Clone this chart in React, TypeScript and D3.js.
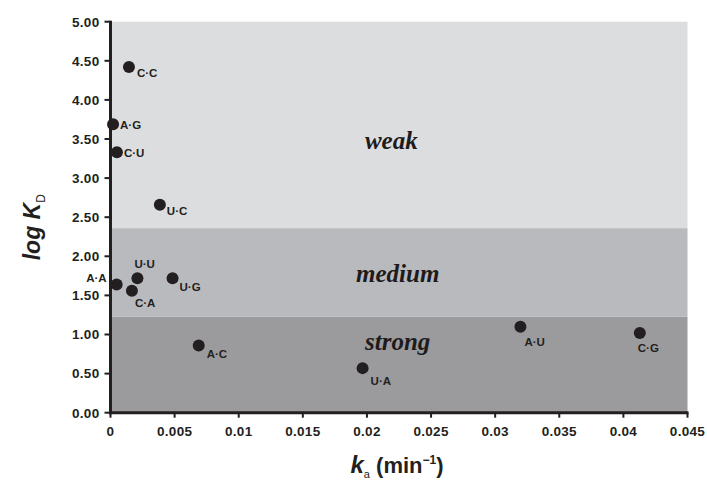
import React, { useEffect, useRef } from "react";
import * as d3 from "d3";

// mismatch pairs, association rate and log KD
const pairs = ["C·C", "A·G", "C·U", "U·C", "A·A", "U·U", "C·A", "U·G", "A·C", "U·A", "A·U", "C·G"];
const ka = [0.00144, 0.0002, 0.0005, 0.00385, 0.00048, 0.0021, 0.00167, 0.00484, 0.00688, 0.01966, 0.03197, 0.04128];
const logKd = [4.42, 3.69, 3.33, 2.66, 1.64, 1.72, 1.56, 1.72, 0.86, 0.57, 1.1, 1.02];

// label placement relative to each dot: [dx, dy, anchor]
const labelOffsets: [number, number, string][] = [
  [8, 10, "start"],
  [7, 5, "start"],
  [7, 4.5, "start"],
  [7, 10, "start"],
  [-10, -2, "end"],
  [-3, -10.5, "start"],
  [3, 16, "start"],
  [7, 12.5, "start"],
  [8, 12.5, "start"],
  [8, 16.5, "start"],
  [4, 19, "start"],
  [-2, 19.5, "start"],
];

const bandNames = ["strong", "medium", "weak"];
const bandLow = [0, 1.23, 2.36];
const bandHigh = [1.23, 2.36, 5];
const bandLabelX = [0.0224, 0.0224, 0.0219];
const bandLabelY = [0.8, 1.675, 3.37];
const bandColors = ["#9b9b9e", "#b9babd", "#dcdddf"];

const xTicks = [0, 0.005, 0.01, 0.015, 0.02, 0.025, 0.03, 0.035, 0.04, 0.045];
const xTickLabels = ["0", "0.005", "0.01", "0.015", "0.02", "0.025", "0.03", "0.035", "0.04", "0.045"];
const yTicks = [0, 0.5, 1, 1.5, 2, 2.5, 3, 3.5, 4, 4.5, 5];

const width = 707;
const height = 484;
const ink = "#231f20";

const App: React.FC = () => {
  const svgRef = useRef<SVGSVGElement | null>(null);

  useEffect(() => {
    if (!svgRef.current) return;
    const svg = d3.select(svgRef.current);
    svg.selectAll("*").remove();

    const x = d3.scaleLinear().domain([0, 0.045]).range([110.5, 687.5]);
    const y = d3.scaleLinear().domain([0, 5]).range([412.7, 21.7]);

    // background bands
    svg
      .append("g")
      .selectAll("rect")
      .data(bandNames)
      .join("rect")
      .attr("x", x(0))
      .attr("width", x(0.045) - x(0))
      .attr("y", (d, i) => y(bandHigh[i]))
      .attr("height", (d, i) => y(bandLow[i]) - y(bandHigh[i]))
      .attr("fill", (d, i) => bandColors[i]);

    svg
      .append("g")
      .selectAll("text")
      .data(bandNames)
      .join("text")
      .attr("x", (d, i) => x(bandLabelX[i]))
      .attr("y", (d, i) => y(bandLabelY[i]))
      .attr("text-anchor", "middle")
      .attr("font-family", "'Liberation Serif', 'DejaVu Serif', serif")
      .attr("font-style", "italic")
      .attr("font-weight", "bold")
      .attr("font-size", 25)
      .attr("fill", "#1e1b1c")
      .text((d) => d);

    // y axis
    const yAxis = svg.append("g").attr("transform", `translate(${x(0)},0)`);
    yAxis
      .append("line")
      .attr("y1", y(5) - 1)
      .attr("y2", y(0) + 1.5)
      .attr("stroke", ink)
      .attr("stroke-width", 3);
    const yt = yAxis.selectAll("g.tick").data(yTicks).join("g").attr("class", "tick")
      .attr("transform", (d) => `translate(0,${y(d)})`);
    yt.append("line").attr("x1", -6).attr("x2", 0).attr("stroke", ink).attr("stroke-width", 2);
    yt.append("text")
      .attr("x", -11)
      .attr("dy", "0.36em")
      .attr("text-anchor", "end")
      .attr("font-family", "Arial, 'Liberation Sans', sans-serif")
      .attr("font-weight", "bold")
      .attr("font-size", 13.5)
      .attr("letter-spacing", 0.3)
      .attr("fill", ink)
      .text((d) => d3.format(".2f")(d));

    // x axis
    const xAxis = svg.append("g").attr("transform", `translate(0,${y(0)})`);
    xAxis
      .append("line")
      .attr("x1", x(0) - 1.5)
      .attr("x2", x(0.045) + 1)
      .attr("stroke", ink)
      .attr("stroke-width", 3);
    const xt = xAxis.selectAll("g.tick").data(xTicks).join("g").attr("class", "tick")
      .attr("transform", (d) => `translate(${x(d)},0)`);
    xt.append("line").attr("y1", 0).attr("y2", 5).attr("stroke", ink).attr("stroke-width", 2);
    xt.append("text")
      .attr("y", 23.5)
      .attr("text-anchor", "middle")
      .attr("font-family", "Arial, 'Liberation Sans', sans-serif")
      .attr("font-weight", "bold")
      .attr("font-size", 13.5)
      .attr("letter-spacing", 0.3)
      .attr("fill", ink)
      .text((d, i) => xTickLabels[i]);

    // points and labels
    const idx = d3.range(pairs.length);
    svg
      .append("g")
      .selectAll("circle")
      .data(idx)
      .join("circle")
      .attr("cx", (i) => x(ka[i]))
      .attr("cy", (i) => y(logKd[i]))
      .attr("r", 6)
      .attr("fill", ink);

    svg
      .append("g")
      .selectAll("text")
      .data(idx)
      .join("text")
      .attr("x", (i) => x(ka[i]) + labelOffsets[i][0])
      .attr("y", (i) => y(logKd[i]) + labelOffsets[i][1])
      .attr("text-anchor", (i) => labelOffsets[i][2])
      .attr("font-family", "Arial, 'Liberation Sans', sans-serif")
      .attr("font-weight", "bold")
      .attr("font-size", 11.5)
      .attr("fill", ink)
      .text((i) => pairs[i]);

    // axis titles
    const yTitle = svg
      .append("text")
      .attr("transform", `translate(40,${(y(0) + y(5)) / 2 + 10}) rotate(-90)`)
      .attr("text-anchor", "middle")
      .attr("font-family", "Arial, 'Liberation Sans', sans-serif")
      .attr("font-weight", "bold")
      .attr("fill", ink);
    yTitle.append("tspan").attr("font-style", "italic").attr("font-size", 23).text("log K");
    yTitle.append("tspan").attr("font-size", 12).attr("font-weight", "normal").attr("dy", 5).text("D");

    const xTitle = svg
      .append("text")
      .attr("x", (x(0) + x(0.045)) / 2 - 2)
      .attr("y", 473)
      .attr("text-anchor", "middle")
      .attr("font-family", "Arial, 'Liberation Sans', sans-serif")
      .attr("font-weight", "bold")
      .attr("fill", ink);
    xTitle.append("tspan").attr("font-style", "italic").attr("font-size", 24).text("k");
    xTitle.append("tspan").attr("font-size", 11).attr("font-weight", "normal").attr("dy", 5).text("a");
    xTitle.append("tspan").attr("font-size", 22).attr("dy", -5).text(" (min");
    xTitle.append("tspan").attr("font-size", 12).attr("dy", -9).text("−1");
    xTitle.append("tspan").attr("font-size", 22).attr("dy", 9).text(")");
  }, []);

  return (
    <svg
      ref={svgRef}
      width={width}
      height={height}
      style={{ position: "absolute", left: 0, top: 0, background: "#fff" }}
    />
  );
};

export default App;
